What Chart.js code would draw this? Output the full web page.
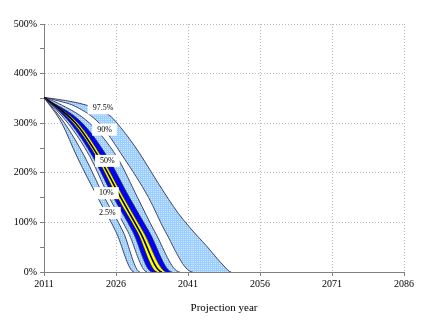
<!DOCTYPE html>
<html>
<head>
<meta charset="utf-8">
<script src="https://cdn.jsdelivr.net/npm/chart.js@4.4.0/dist/chart.umd.min.js"></script>
<style>
  body { margin: 0; background: #fff; }
  #wrap { width: 432px; height: 336px; }
</style>
</head>
<body>
<div id="wrap"><canvas id="fan" width="432" height="336"></canvas></div>
<script>
// percentile paths of the trust fund ratio, [year, percent]
const p025 = [[2011,352],[2014.7,300],[2017.9,232],[2022.2,150],[2026.0,81],[2029.8,0],[2086,0]];
const p05  = [[2011,352],[2015.3,300],[2019.5,232],[2023.6,150],[2027.5,81],[2031.0,0],[2086,0]];
const p10  = [[2011,352],[2016.0,300],[2020.6,232],[2024.6,150],[2028.5,81],[2032.5,0],[2086,0]];
const p25  = [[2011,352],[2016.5,300],[2021.2,232],[2025.5,150],[2029.5,81],[2033.5,0],[2086,0]];
const p40  = [[2011,352],[2017.1,300],[2021.9,232],[2026.3,150],[2030.4,81],[2034.6,0],[2086,0]];
const p50  = [[2011,352],[2017.6,300],[2022.4,232],[2027.0,150],[2031.0,81],[2035.6,0],[2086,0]];
const p60  = [[2011,352],[2018.1,300],[2023.0,232],[2027.6,150],[2031.7,81],[2036.6,0],[2086,0]];
const p75  = [[2011,352],[2019.0,300],[2024.2,232],[2028.8,150],[2032.9,81],[2037.7,0],[2086,0]];
const p90  = [[2011,352],[2014,340],[2020.5,300],[2026.2,232],[2030.5,150],[2034.1,81],[2039.3,0],[2086,0]];
const p95  = [[2011,352],[2014,345],[2017.5,334],[2022.5,300],[2027.5,232],[2032.8,150],[2036.3,81],[2042.0,0],[2086,0]];
const p975 = [[2011,352],[2014,348],[2017,343],[2020,336],[2023,325],[2025,313],[2027,291],[2029,266],[2031,238],
              [2033,207],[2035,176],[2037,146],[2039,118],[2041,94],[2043,72],[2045,51],[2047,28],[2048.5,12],[2050,0],[2086,0]];

const xTicks = [2011, 2026, 2041, 2056, 2071, 2086];
const yTicks = [0, 100, 200, 300, 400, 500];

const labelText  = ['97.5%', '90%', '50%', '10%', '2.5%'];
const labelYear  = [2023.3, 2023.6, 2024.2, 2024.0, 2024.2];
const labelValue = [330, 287, 224, 159, 119];

// dotted light blue like the excel fill
function lightBlue() {
    const c = document.createElement('canvas');
    c.width = 2; c.height = 2;
    const g = c.getContext('2d');
    g.fillStyle = '#99ccff';
    g.fillRect(0, 0, 2, 2);
    g.fillStyle = '#d2e8ff';
    g.fillRect(1, 1, 1, 1);
    return g.createPattern(c, 'repeat');
}
const LB = lightBlue();
const edge = '#1c1c3c';

const toXY = arr => arr.map(p => ({x: p[0], y: p[1]}));
const hideZero = {
    borderColor: c => (c.p0.parsed.y === 0 && c.p1.parsed.y === 0) ? 'rgba(0,0,0,0)' : undefined
};

function band(data, fillColor, line, width) {
    return {
        data: toXY(data),
        borderColor: line || edge,
        borderWidth: width || 0.8,
        backgroundColor: fillColor,
        fill: fillColor ? '-1' : false,
        pointRadius: 0,
        cubicInterpolationMode: 'monotone',
        segment: hideZero
    };
}

const bandLabels = {
    id: 'bandLabels',
    afterDatasetsDraw(chart) {
        const {ctx, scales: {x, y}} = chart;
        ctx.save();
        ctx.font = '8px "Liberation Serif", "Times New Roman", serif';
        ctx.textAlign = 'center';
        ctx.textBaseline = 'middle';
        labelText.forEach((t, i) => {
            const px = x.getPixelForValue(labelYear[i]);
            const py = y.getPixelForValue(labelValue[i]);
            const w = ctx.measureText(t).width + 10;
            ctx.fillStyle = '#fff';
            ctx.fillRect(px - w / 2, py - 6, w, 12);
            ctx.fillStyle = '#000';
            ctx.fillText(t, px, py);
        });
        ctx.restore();
    }
};

const serif = '"Liberation Serif", "Times New Roman", serif';

new Chart(document.getElementById('fan'), {
    type: 'line',
    data: {
        datasets: [
            band(p025, null),
            band(p05, LB),
            band(p10, '#ffffff'),
            band(p25, LB),
            band(p40, '#0000ff'),
            band(p50, '#ffff00', '#000000', 1.6),
            band(p60, '#ffff00'),
            band(p75, '#0000ff'),
            band(p90, LB),
            band(p95, '#ffffff'),
            band(p975, LB)
        ]
    },
    options: {
        responsive: false,
        animation: false,
        layout: { padding: { left: 0, top: 24, right: 28, bottom: 0 } },
        plugins: { legend: { display: false }, tooltip: { enabled: false } },
        scales: {
            x: {
                type: 'linear',
                min: xTicks[0],
                max: xTicks[xTicks.length - 1],
                afterFit: s => { s.height = 64; },
                afterBuildTicks: s => { s.ticks = xTicks.map(v => ({value: v})); },
                ticks: {
                    color: '#000',
                    font: { family: serif, size: 10 },
                    padding: 2,
                    maxRotation: 0,
                    autoSkip: false,
                    callback: v => String(v)
                },
                grid: { color: '#b8b8b8', tickColor: '#808080', tickLength: 4 },
                border: { color: '#808080', width: 1, dash: [1, 2] },
                title: {
                    display: true,
                    text: 'Projection year',
                    color: '#000',
                    font: { family: serif, size: 11 },
                    padding: { top: 0, bottom: 21 }
                }
            },
            y: {
                min: 0,
                max: 500,
                afterFit: s => { s.width = 44; },
                afterBuildTicks: s => {
                    const t = [];
                    for (let v = 0; v <= 500; v += 50) t.push({value: v});
                    s.ticks = t;
                },
                ticks: {
                    color: '#000',
                    font: { family: serif, size: 10 },
                    padding: 3,
                    autoSkip: false,
                    callback: v => yTicks.includes(v) ? v + '%' : ''
                },
                grid: {
                    color: c => (c.tick && c.tick.value % 100 === 0) ? '#b8b8b8' : 'rgba(0,0,0,0)',
                    tickColor: '#808080',
                    tickLength: 4
                },
                border: { color: '#808080', width: 1, dash: [1, 2] }
            }
        }
    },
    plugins: [bandLabels]
});
</script>
</body>
</html>
